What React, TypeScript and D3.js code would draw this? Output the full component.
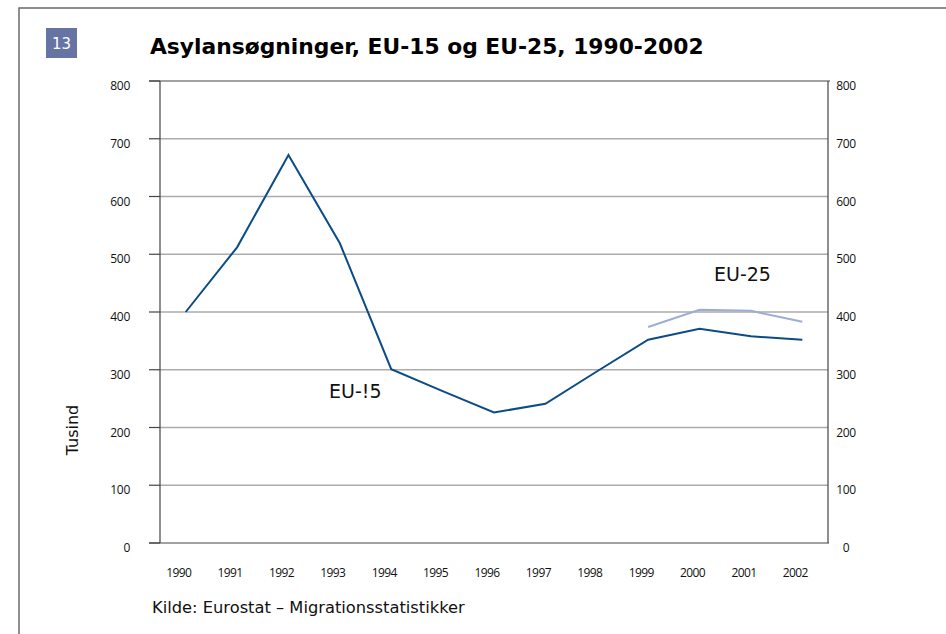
import { useRef, useEffect } from "react";
import * as d3 from "d3";

const years = ["1990", "1991", "1992", "1993", "1994", "1995", "1996", "1997", "1998", "1999", "2000", "2001", "2002"];
const eu15 = [400, 512, 672, 519, 301, 263, 226, 241, 297, 352, 371, 358, 352];
const eu25Years = ["1999", "2000", "2001", "2002"];
const eu25 = [374, 404, 402, 383];
const yTicks = [0, 100, 200, 300, 400, 500, 600, 700, 800];

export default function App() {
  const svgRef = useRef<SVGSVGElement>(null);

  useEffect(() => {
    if (!svgRef.current) return;
    const svg = d3.select(svgRef.current);
    svg.selectAll("*").remove();

    const width = 946;
    const height = 634;
    const left = 160;
    const right = 828;
    const top = 81;
    const bottom = 543;

    svg.attr("width", width).attr("height", height);

    const x = d3.scaleBand().domain(years).range([left, right]);
    const cx = (d: string) => (x(d) || 0) + x.bandwidth() / 2;
    const y = d3.scaleLinear().domain([0, 800]).range([bottom, top]);

    // frame
    svg.append("path")
      .attr("d", `M19,${height} L19,8 L${width},8`)
      .attr("fill", "none")
      .attr("stroke", "#6a6a6a")
      .attr("stroke-width", 1.5);

    // badge
    svg.append("rect")
      .attr("x", 46).attr("y", 28).attr("width", 31).attr("height", 30)
      .attr("fill", "#6674a3");
    svg.append("text")
      .attr("x", 61.5).attr("y", 48.5)
      .attr("text-anchor", "middle")
      .attr("font-family", "DejaVu Sans")
      .attr("font-size", "15px")
      .attr("fill", "#fff")
      .text("13");

    // title
    svg.append("text")
      .attr("x", 150).attr("y", 54)
      .attr("font-family", "DejaVu Sans")
      .attr("font-weight", "bold")
      .attr("font-size", "21.8px")
      .attr("fill", "#000")
      .text("Asylansøgninger, EU-15 og EU-25, 1990-2002");

    // grid lines
    svg.append("g")
      .selectAll("line")
      .data(yTicks.filter((t) => t > 0 && t < 800))
      .enter()
      .append("line")
      .attr("x1", left).attr("x2", right)
      .attr("y1", (d) => y(d)).attr("y2", (d) => y(d))
      .attr("stroke", "#ababab")
      .attr("stroke-width", 1.5);

    // frame of plot: top, bottom, left axis, right axis
    const axisColor = "#444";
    svg.append("line")
      .attr("x1", 149).attr("x2", right + 2)
      .attr("y1", y(800)).attr("y2", y(800))
      .attr("stroke", axisColor).attr("stroke-width", 1.2);
    svg.append("line")
      .attr("x1", 149).attr("x2", right + 1)
      .attr("y1", y(0)).attr("y2", y(0))
      .attr("stroke", axisColor).attr("stroke-width", 1.2);
    svg.append("line")
      .attr("x1", left).attr("x2", left)
      .attr("y1", y(800)).attr("y2", y(0))
      .attr("stroke", axisColor).attr("stroke-width", 1.2);
    svg.append("line")
      .attr("x1", right).attr("x2", right)
      .attr("y1", y(800)).attr("y2", y(0))
      .attr("stroke", axisColor).attr("stroke-width", 1.2);

    // left tick marks
    svg.append("g")
      .selectAll("line")
      .data(yTicks)
      .enter()
      .append("line")
      .attr("x1", 149).attr("x2", left)
      .attr("y1", (d) => y(d)).attr("y2", (d) => y(d))
      .attr("stroke", axisColor).attr("stroke-width", 1.2);

    const tickFont = "'Open Sans'";

    // left labels
    svg.append("g")
      .selectAll("text")
      .data(yTicks)
      .enter()
      .append("text")
      .attr("x", 130)
      .attr("y", (d) => y(d) + 9)
      .attr("text-anchor", "end")
      .attr("font-family", tickFont)
      .attr("font-size", "12px")
      .attr("letter-spacing", "-0.3px")
      .attr("fill", "#111")
      .text((d) => d);

    // right labels
    svg.append("g")
      .selectAll("text")
      .data(yTicks)
      .enter()
      .append("text")
      .attr("x", 846)
      .attr("y", (d) => y(d) + 9)
      .attr("text-anchor", "middle")
      .attr("font-family", tickFont)
      .attr("font-size", "12px")
      .attr("letter-spacing", "-0.3px")
      .attr("fill", "#111")
      .text((d) => d);

    // x labels
    svg.append("g")
      .selectAll("text")
      .data(years)
      .enter()
      .append("text")
      .attr("x", (d) => cx(d) - 7)
      .attr("y", 577)
      .attr("text-anchor", "middle")
      .attr("font-family", tickFont)
      .attr("font-size", "12px")
      .attr("letter-spacing", "-0.6px")
      .attr("fill", "#111")
      .text((d) => d);

    // y title
    svg.append("text")
      .attr("transform", "translate(78,430) rotate(-90)")
      .attr("text-anchor", "middle")
      .attr("font-family", "DejaVu Sans")
      .attr("font-size", "16px")
      .attr("fill", "#111")
      .text("Tusind");

    // lines
    const line = d3.line<[string, number]>()
      .x((d) => cx(d[0]))
      .y((d) => y(d[1]));

    svg.append("path")
      .datum(eu25Years.map((yr, i) => [yr, eu25[i]] as [string, number]))
      .attr("d", line)
      .attr("fill", "none")
      .attr("stroke", "#9fadd2")
      .attr("stroke-width", 2);

    svg.append("path")
      .datum(years.map((yr, i) => [yr, eu15[i]] as [string, number]))
      .attr("d", line)
      .attr("fill", "none")
      .attr("stroke", "#0b4c86")
      .attr("stroke-width", 2);

    // series labels
    svg.append("text")
      .attr("x", 329).attr("y", 398)
      .attr("font-family", "DejaVu Sans")
      .attr("font-size", "19px")
      .attr("fill", "#111")
      .text("EU-!5");
    svg.append("text")
      .attr("x", 714).attr("y", 281)
      .attr("font-family", "DejaVu Sans")
      .attr("font-size", "19px")
      .attr("fill", "#111")
      .text("EU-25");

    // source
    svg.append("text")
      .attr("x", 152).attr("y", 613)
      .attr("font-family", "DejaVu Sans")
      .attr("font-size", "16.3px")
      .attr("fill", "#111")
      .text("Kilde: Eurostat – Migrationsstatistikker");
  }, []);

  return <svg ref={svgRef} style={{ position: "absolute", left: 0, top: 0 }} />;
}
